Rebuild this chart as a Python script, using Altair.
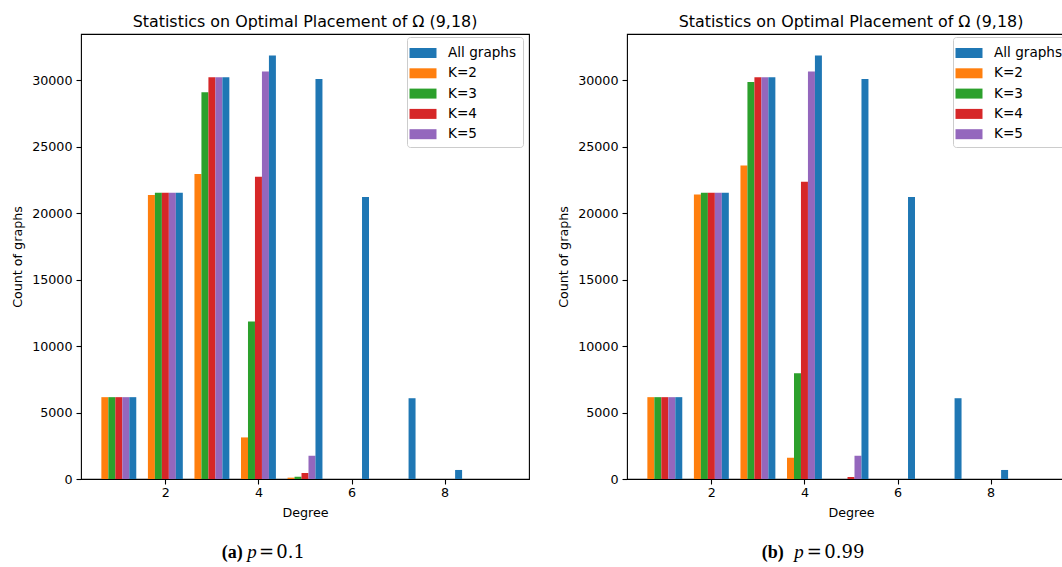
import altair as alt
import pandas as pd

# ---------------- data ----------------
degrees = [1, 2, 3, 4, 5, 6, 7, 8]
series_names = ["K=2", "K=3", "K=4", "K=5", "All graphs"]      # order of bars within a group
legend_order = ["All graphs", "K=2", "K=3", "K=4", "K=5"]
legend_colors = ["#1f77b4", "#ff7f0e", "#2ca02c", "#d62728", "#9467bd"]

all_graphs = [6160, 21550, 30240, 31870, 30110, 21230, 6080, 680]

# (a) p = 0.1
a_k2 = [6160, 21370, 22950, 3130, 100, 0, 0, 0]
a_k3 = [6160, 21550, 29110, 11860, 170, 0, 0, 0]
a_k4 = [6160, 21550, 30240, 22750, 450, 0, 0, 0]
a_k5 = [6160, 21550, 30240, 30680, 1750, 0, 0, 0]

# (b) p = 0.99
b_k2 = [6160, 21420, 23600, 1600, 0, 0, 0, 0]
b_k3 = [6160, 21550, 29880, 7960, 0, 0, 0, 0]
b_k4 = [6160, 21550, 30240, 22370, 150, 0, 0, 0]
b_k5 = [6160, 21550, 30240, 30680, 1750, 0, 0, 0]

y_ticks = [0, 5000, 10000, 15000, 20000, 25000, 30000]
x_ticks = [2, 4, 6, 8]
title_text = "Statistics on Optimal Placement of Ω (9,18)"

W, H = 448, 445
FONT = "DejaVu Sans"
SERIF = "Liberation Serif"
MATH = "DejaVu Serif"


def long_df(series_vals):
    rows = []
    for idx, (name, vals) in enumerate(zip(series_names, series_vals)):
        for d, v in zip(degrees, vals):
            rows.append({"degree": d, "series": name, "idx": idx, "count": v})
    return pd.DataFrame(rows)


def panel(df, letter, pval, xs):
    bars = (
        alt.Chart(df)
        .transform_filter("datum.count > 0")
        .transform_calculate(
            x0="datum.degree - 0.375 + 0.15 * datum.idx",
            x1="datum.degree - 0.225 + 0.15 * datum.idx",
        )
        .mark_bar()
        .encode(
            x=alt.X(
                "x0:Q",
                scale=alt.Scale(domain=[0.1875, 9.8125], nice=False, zero=False),
                axis=alt.Axis(values=x_ticks, title="Degree", format="d"),
            ),
            x2="x1:Q",
            y=alt.Y(
                "count:Q",
                scale=alt.Scale(domain=[0, 33495], nice=False),
                axis=alt.Axis(values=y_ticks, title="Count of graphs", format="d"),
            ),
            y2=alt.datum(0),
            color=alt.Color(
                "series:N",
                scale=alt.Scale(domain=legend_order, range=legend_colors),
                legend=alt.Legend(
                    title=None,
                    orient="none",
                    legendX=326,
                    legendY=3,
                    padding=6,
                    strokeColor="#cccccc",
                    fillColor="white",
                    cornerRadius=3,
                    symbolType="M-1.35,-0.5H1.35V0.5H-1.35Z",
                    symbolSize=400,
                    symbolStrokeWidth=0,
                    symbolOpacity=1,
                    labelFont=FONT,
                    labelFontSize=13.6,
                    labelColor="black",
                    labelOffset=15,
                    rowPadding=3.3,
                ),
            ),
        )
    )
    cap_parts = [
        (f"({letter})", SERIF, 18, "bold", "normal", xs[0]),
        ("p", SERIF, 19, "normal", "italic", xs[1]),
        ("=", MATH, 18, "normal", "normal", xs[2]),
        (pval, MATH, 18, "normal", "normal", xs[3]),
    ]
    layers = [bars]
    for txt, font, size, weight, style, xpos in cap_parts:
        layers.append(
            alt.Chart(pd.DataFrame({"t": [txt]}))
            .mark_text(
                font=font,
                fontSize=size,
                fontWeight=weight,
                fontStyle=style,
                align="left",
                baseline="alphabetic",
                color="black",
            )
            .encode(text="t:N", x=alt.value(xpos), y=alt.value(524))
        )
    return alt.layer(*layers).properties(
        width=W,
        height=H,
        title=alt.TitleParams(
            title_text,
            font=FONT,
            fontSize=15.9,
            fontWeight="normal",
            color="black",
            anchor="middle",
            offset=4,
        ),
    )


left = panel(long_df([a_k2, a_k3, a_k4, a_k5, all_graphs]), "a", "0.1", [140.7, 166.3, 178, 195.3])
right = panel(long_df([b_k2, b_k3, b_k4, b_k5, all_graphs]), "b", "0.99", [134.7, 167.3, 179.7, 197.3])

chart = (
    alt.hconcat(left, right, spacing=27)
    .resolve_legend(color="independent")
    .properties(padding={"left": 11, "top": 13, "right": -14, "bottom": 0})
    .configure_view(stroke="black", strokeWidth=1.1)
    .configure_axis(
        domain=False,
        grid=False,
        ticks=True,
        tickColor="black",
        tickSize=5,
        tickWidth=1.1,
        labelFont=FONT,
        labelFontSize=12.7,
        labelColor="black",
        labelPadding=4,
        titleFont=FONT,
        titleFontSize=12.7,
        titleFontWeight="normal",
        titleColor="black",
    )
    .configure_axisY(titlePadding=7)
    .configure_axisX(titlePadding=8, labelPadding=2)
)

chart.save("out.html", embed_options={"renderer": "svg", "actions": False})
